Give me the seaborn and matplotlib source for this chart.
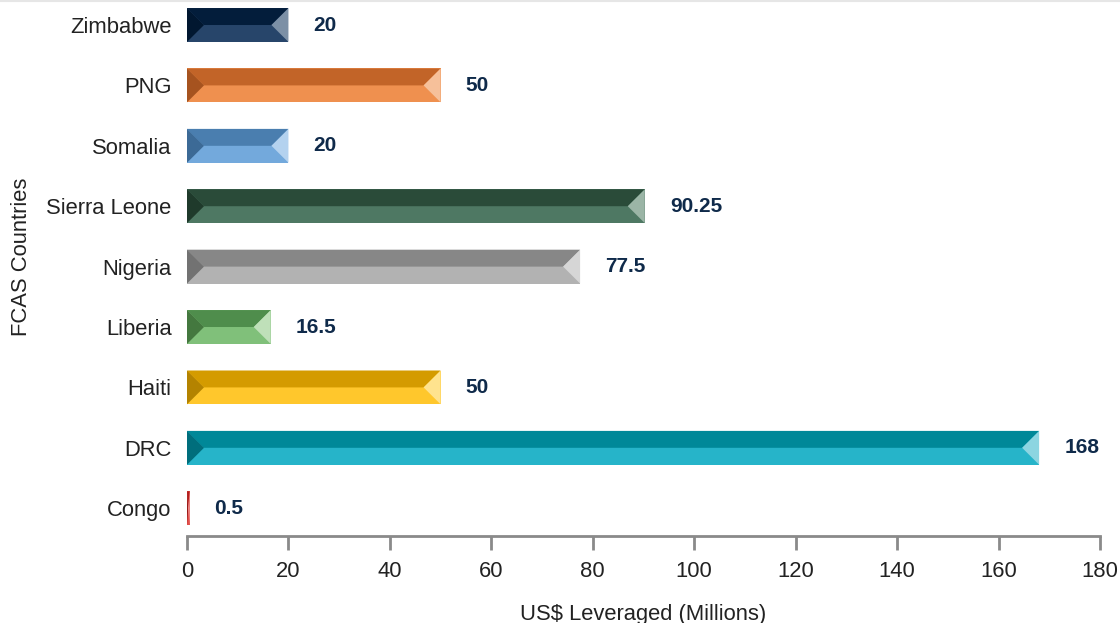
import matplotlib
matplotlib.use("Agg")
import matplotlib.pyplot as plt
from matplotlib.patches import Polygon
import seaborn as sns
import pandas as pd

# Funds leveraged per FCAS country (US$ millions)
countries = ["Zimbabwe", "PNG", "Somalia", "Sierra Leone", "Nigeria",
             "Liberia", "Haiti", "DRC", "Congo"]
values = [20, 50, 20, 90.25, 77.5, 16.5, 50, 168, 0.5]
value_labels = ["20", "50", "20", "90.25", "77.5", "16.5", "50", "168", "0.5"]
x_ticks = [0, 20, 40, 60, 80, 100, 120, 140, 160, 180]

# Bevel shading per bar: lower face, upper face, left edge, right edge
lower_colors = ["#27456a", "#ef904f", "#73a9dc", "#4e7863", "#b2b2b2",
                "#80c07a", "#ffc72c", "#26b4c9", "#e3504c"]
upper_colors = ["#031d3b", "#c26428", "#4a7eaf", "#2a4b39", "#878787",
                "#4f8d4c", "#d49b00", "#008898", "#b3201e"]
left_colors = ["#011730", "#a6531f", "#3c6a96", "#1f3a2b", "#727272",
               "#44783f", "#b48300", "#006e7c", "#971a18"]
right_colors = ["#7c90a6", "#f6c09a", "#b4d2ef", "#9bb5a6", "#d6d6d6",
                "#bfe0b9", "#ffe38e", "#8cd5e1", "#f3a5a3"]

df = pd.DataFrame({"country": countries, "value": values})

sns.set_theme(style="white")
plt.rcParams["font.family"] = ["Liberation Sans", "DejaVu Sans"]

fig = plt.figure(figsize=(11.2, 6.23), dpi=100)
ax = fig.add_axes([187 / 1120, 1 - 536 / 623, 913 / 1120, 536 / 623])

sns.barplot(data=df, x="value", y="country", hue="country",
            palette=lower_colors, order=countries, hue_order=countries,
            legend=False, width=0.56, orient="h", linewidth=0,
            saturation=1, ax=ax)

ax.set_xlim(0, 180)
ax.set_ylim(8.46, -0.414)

# bevel width in data units (about 17 px on screen)
bevel_px = 17
px_per_unit = 913 / 180.0
bevel = bevel_px / px_per_unit

for p in ax.patches:
    x0 = p.get_x()
    w = p.get_width()
    y0 = p.get_y()
    h = p.get_height()
    idx = int(round(y0 + h / 2))
    y1 = y0 + h
    ym = y0 + h / 2
    b = min(bevel, w / 2)
    # upper half (smaller data y, since the axis is inverted)
    ax.add_patch(Polygon([(x0, y0), (x0 + w, y0), (x0 + w - b, ym), (x0 + b, ym)],
                         closed=True, facecolor=upper_colors[idx], edgecolor="none", zorder=3))
    ax.add_patch(Polygon([(x0, y0), (x0 + b, ym), (x0, y1)],
                         closed=True, facecolor=left_colors[idx], edgecolor="none", zorder=3))
    ax.add_patch(Polygon([(x0 + w, y0), (x0 + w - b, ym), (x0 + w, y1)],
                         closed=True, facecolor=right_colors[idx], edgecolor="none", zorder=3))

for i, (v, lab) in enumerate(zip(values, value_labels)):
    ax.annotate(lab, xy=(v, i), xytext=(18, 0), textcoords="offset points",
                ha="left", va="center", fontsize=15, fontweight="bold",
                color="#0f2a4a", zorder=4)

for side in ["top", "right", "left"]:
    ax.spines[side].set_visible(False)
ax.spines["bottom"].set_color("#8a8a8a")
ax.spines["bottom"].set_linewidth(2)

ax.set_xticks(x_ticks)
ax.set_xticklabels([str(t) for t in x_ticks])
ax.tick_params(axis="x", direction="out", length=10, width=2, color="#8a8a8a",
               labelsize=15.8, labelcolor="#222222", pad=8, bottom=True)
ax.tick_params(axis="y", length=0, labelsize=15.8, labelcolor="#222222", pad=11)

ax.set_xlabel("US$ Leveraged (Millions)", fontsize=15.8, color="#222222", labelpad=16)
ax.set_ylabel("FCAS Countries", fontsize=15.8, color="#222222")
ax.yaxis.set_label_coords(-155 / 913, 0.52)

# faint rule along the top edge
fig.add_artist(plt.Line2D([0, 1], [0.999, 0.999], color="#e6e6e6", linewidth=1.5,
                          transform=fig.transFigure))

fig.savefig("out.png", dpi=100)
